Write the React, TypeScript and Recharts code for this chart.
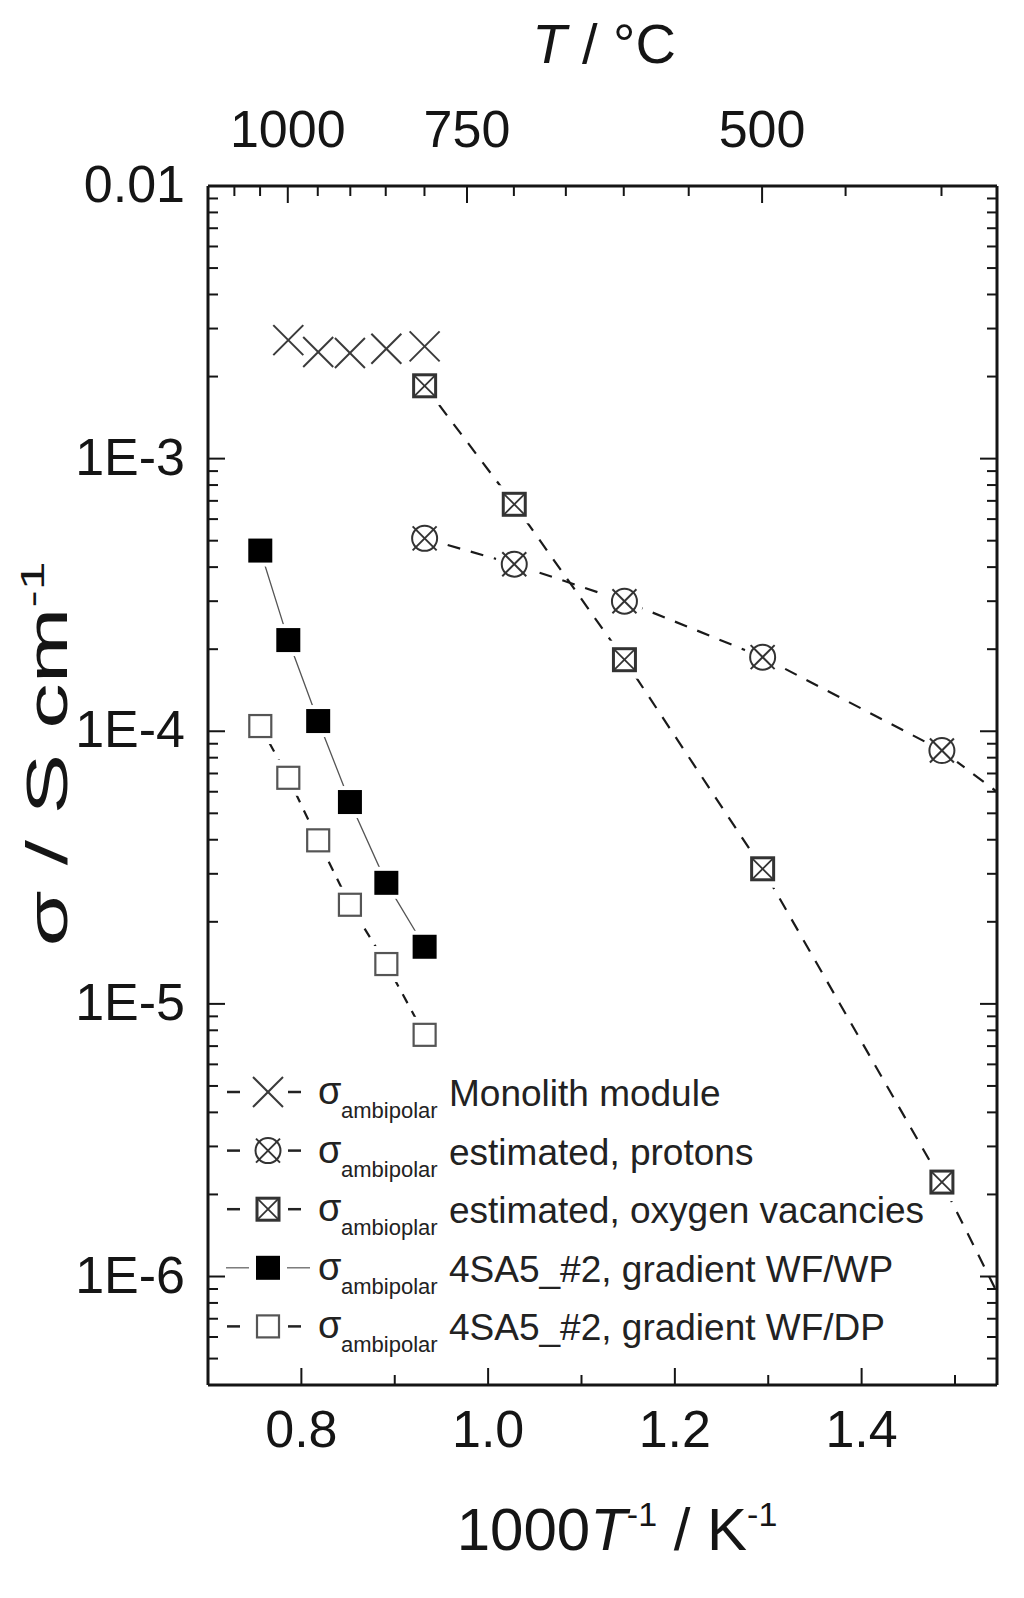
import { ComposedChart, Line, XAxis, YAxis } from "recharts";

// Values (x = 1000/T in 1/K, y = sigma in S/cm)
const monolithX = [0.786, 0.818, 0.852, 0.891, 0.932];
const monolithY = [2.72e-3, 2.46e-3, 2.44e-3, 2.53e-3, 2.58e-3];

// last point of the two estimates lies beyond the frame: the dashed line runs off the plot
const protonX = [0.932, 1.028, 1.146, 1.294, 1.486, 1.605];
const protonY = [5.1e-4, 4.1e-4, 3.0e-4, 1.87e-4, 8.5e-5, 4.2e-5];

const vacancyX = [0.932, 1.028, 1.146, 1.294, 1.486, 1.605];
const vacancyY = [1.85e-3, 6.8e-4, 1.83e-4, 3.13e-5, 2.22e-6, 3.4e-7];

const wetX = [0.756, 0.786, 0.818, 0.852, 0.891, 0.932];
const wetY = [4.6e-4, 2.16e-4, 1.09e-4, 5.5e-5, 2.78e-5, 1.62e-5];

const dryX = [0.756, 0.786, 0.818, 0.852, 0.891, 0.932];
const dryY = [1.045e-4, 6.75e-5, 3.98e-5, 2.31e-5, 1.4e-5, 7.7e-6];

// axes
const bottomTicks = [0.8, 0.9, 1.0, 1.1, 1.2, 1.3, 1.4, 1.5];
const bottomMajor = [0.8, 1.0, 1.2, 1.4];
const tempMajor = [1000, 750, 500];
const tempMinor = [1100, 1050, 950, 900, 850, 800, 700, 650, 600, 550, 450, 400];
const decades = [1e-2, 1e-3, 1e-4, 1e-5, 1e-6];
const decadeLabels = ["0.01", "1E-3", "1E-4", "1E-5", "1E-6"];

const legendLabels = [
  "Monolith module",
  "estimated, protons",
  "estimated, oxygen vacancies",
  "4SA5_#2, gradient WF/WP",
  "4SA5_#2, gradient WF/DP",
];
const legendSubs = ["ambipolar", "ambipolar", "ambioplar", "ambipolar", "ambipolar"];

const X_MIN = 0.7;
const X_MAX = 1.545;
const Y_MIN = 4e-7;
const Y_MAX = 0.01;

const FONT = '"Liberation Sans", Arial, Helvetica, sans-serif';
const INK = "#151515";

const toPoints = (xs: number[], ys: number[]) => xs.map((x, i) => ({ x, y: ys[i] }));

const yTicks: number[] = [];
for (let e = -7; e <= -3; e++) {
  for (let m = 1; m <= 9; m++) {
    const v = Number((m * Math.pow(10, e)).toPrecision(3));
    if (v >= Y_MIN && v <= Y_MAX) yTicks.push(v);
  }
}
yTicks.push(1e-2);

const tempPos = (t: number) => 1000 / (t + 273.15);
const topTicks = [...tempMajor, ...tempMinor].map(tempPos).sort((a, b) => a - b);

const near = (a: number, b: number) => Math.abs(a - b) / Math.abs(b) < 1e-4;
const MAJOR = 17;
const MINOR = 10;

function BottomTick({ x, y, payload }: any) {
  const major = bottomMajor.some((m) => near(payload.value, m));
  return (
    <g>
      <line x1={x} x2={x} y1={y} y2={y - (major ? MAJOR : MINOR)} stroke={INK} strokeWidth={2} />
      {major && (
        <text x={x} y={y + 62} textAnchor="middle" fontSize={52} fontFamily={FONT} fill={INK}>
          {payload.value.toFixed(1)}
        </text>
      )}
    </g>
  );
}

function TopTick({ x, y, payload }: any) {
  const t = Math.round(1000 / payload.value - 273.15);
  const major = tempMajor.includes(t);
  return (
    <g>
      <line x1={x} x2={x} y1={y} y2={y + (major ? MAJOR : MINOR)} stroke={INK} strokeWidth={2} />
      {major && (
        <text x={x} y={y - 39} textAnchor="middle" fontSize={52} fontFamily={FONT} fill={INK}>
          {t}
        </text>
      )}
    </g>
  );
}

function LeftTick({ x, y, payload }: any) {
  const idx = decades.findIndex((d) => near(payload.value, d));
  const major = idx >= 0;
  return (
    <g>
      <line x1={x} x2={x + (major ? MAJOR : MINOR)} y1={y} y2={y} stroke={INK} strokeWidth={2} />
      {major && (
        <text x={x - 23} y={y + 16} textAnchor="end" fontSize={52} fontFamily={FONT} fill={INK}>
          {decadeLabels[idx]}
        </text>
      )}
    </g>
  );
}

function RightTick({ x, y, payload }: any) {
  const major = decades.some((d) => near(payload.value, d));
  return (
    <line x1={x} x2={x - (major ? MAJOR : MINOR)} y1={y} y2={y} stroke={INK} strokeWidth={2} />
  );
}

// markers
type Kind = "cross" | "circleX" | "squareX" | "filled" | "open";

function Marker({ kind, cx, cy }: { kind: Kind; cx: number; cy: number }) {
  if (kind === "cross") {
    return (
      <g stroke="#3a3a3a" strokeWidth={2}>
        <line x1={cx - 15} y1={cy - 15} x2={cx + 15} y2={cy + 15} />
        <line x1={cx - 15} y1={cy + 15} x2={cx + 15} y2={cy - 15} />
      </g>
    );
  }
  if (kind === "circleX") {
    return (
      <g>
        <circle cx={cx} cy={cy} r={13} fill="#fff" stroke="#fff" strokeWidth={12} />
        <circle cx={cx} cy={cy} r={12.5} fill="#fff" stroke="#333" strokeWidth={2} />
        <g stroke="#333" strokeWidth={2}>
          <line x1={cx - 12} y1={cy - 12} x2={cx + 12} y2={cy + 12} />
          <line x1={cx - 12} y1={cy + 12} x2={cx + 12} y2={cy - 12} />
        </g>
      </g>
    );
  }
  if (kind === "squareX") {
    return (
      <g>
        <rect x={cx - 12} y={cy - 12} width={24} height={24} fill="#fff" stroke="#fff" strokeWidth={14} />
        <rect x={cx - 11} y={cy - 11} width={22} height={22} fill="#fff" stroke="#333" strokeWidth={3} />
        <g stroke="#333" strokeWidth={1.8}>
          <line x1={cx - 10} y1={cy - 10} x2={cx + 10} y2={cy + 10} />
          <line x1={cx - 10} y1={cy + 10} x2={cx + 10} y2={cy - 10} />
        </g>
      </g>
    );
  }
  if (kind === "filled") {
    return (
      <g>
        <rect x={cx - 12} y={cy - 12} width={24} height={24} fill="#fff" stroke="#fff" strokeWidth={8} />
        <rect x={cx - 12} y={cy - 12} width={24} height={24} fill="#000" />
      </g>
    );
  }
  return (
    <g>
      <rect x={cx - 12} y={cy - 12} width={24} height={24} fill="#fff" stroke="#fff" strokeWidth={12} />
      <rect x={cx - 11} y={cy - 11} width={22} height={22} fill="#fff" stroke="#555" strokeWidth={2.2} />
    </g>
  );
}

const dotFor = (kind: Kind) => (p: any) => {
  const key = `${kind}-${p.index}`;
  if (p.payload.x > X_MAX || p.cx == null || p.cy == null) return <g key={key} />;
  return (
    <g key={key}>
      <Marker kind={kind} cx={p.cx} cy={p.cy} />
    </g>
  );
};

const series: {
  name: string;
  kind: Kind;
  xAxis: string;
  data: { x: number; y: number }[];
  stroke: string;
  width: number;
  dash?: string;
}[] = [
  { name: "vacancy", kind: "squareX", xAxis: "bottom", data: toPoints(vacancyX, vacancyY), stroke: "#1a1a1a", width: 2.2, dash: "13 11" },
  { name: "proton", kind: "circleX", xAxis: "bottom", data: toPoints(protonX, protonY), stroke: "#1a1a1a", width: 2.2, dash: "13 11" },
  { name: "dry", kind: "open", xAxis: "bottom", data: toPoints(dryX, dryY), stroke: "#1a1a1a", width: 2.2, dash: "10 9" },
  { name: "wet", kind: "filled", xAxis: "bottom", data: toPoints(wetX, wetY), stroke: "#555", width: 1.3 },
  // plotted against the top (temperature) axis, which shares the same 1000/T scale
  { name: "monolith", kind: "cross", xAxis: "top", data: toPoints(monolithX, monolithY), stroke: "none", width: 0 },
];

const legendKinds: Kind[] = ["cross", "circleX", "squareX", "filled", "open"];

function LegendBlock() {
  return (
    <g fontFamily={FONT} fill="#222">
      {legendKinds.map((k, i) => {
        const cy = 1092 + i * 58.6;
        const solid = k === "filled";
        return (
          <g key={k}>
            {solid ? (
              <g stroke="#666" strokeWidth={1.3}>
                <line x1={226} x2={249} y1={cy} y2={cy} />
                <line x1={287} x2={310} y1={cy} y2={cy} />
              </g>
            ) : (
              <g stroke="#222" strokeWidth={2.5}>
                <line x1={227} x2={240} y1={cy} y2={cy} />
                <line x1={288} x2={301} y1={cy} y2={cy} />
              </g>
            )}
            <Marker kind={k} cx={268} cy={cy} />
            <text x={318} y={cy + 12} fontSize={38}>σ</text>
            <text x={341} y={cy + 26} fontSize={22}>{legendSubs[i]}</text>
            <text x={449} y={cy + 14} fontSize={37}>{legendLabels[i]}</text>
          </g>
        );
      })}
    </g>
  );
}

export default function App() {
  return (
    <div style={{ position: "absolute", left: 0, top: 0, width: 1024, height: 1598, background: "#fff" }}>
      <ComposedChart width={1024} height={1598} margin={{ top: 0, right: 0, bottom: 0, left: 0 }}>
        <XAxis
          xAxisId="bottom"
          dataKey="x"
          type="number"
          orientation="bottom"
          domain={[X_MIN, X_MAX]}
          allowDataOverflow
          ticks={bottomTicks}
          interval={0}
          height={213}
          tickSize={0}
          tickMargin={0}
          tick={BottomTick}
          axisLine={{ stroke: INK, strokeWidth: 3 }}
        />
        <XAxis
          xAxisId="top"
          dataKey="x"
          type="number"
          orientation="top"
          domain={[X_MIN, X_MAX]}
          allowDataOverflow
          ticks={topTicks}
          interval={0}
          height={186}
          tickSize={0}
          tickMargin={0}
          tick={TopTick}
          axisLine={{ stroke: INK, strokeWidth: 3 }}
        />
        <YAxis
          yAxisId="left"
          type="number"
          scale="log"
          orientation="left"
          domain={[Y_MIN, Y_MAX]}
          allowDataOverflow
          ticks={yTicks}
          interval={0}
          width={208}
          tickSize={0}
          tickMargin={0}
          tick={LeftTick}
          axisLine={{ stroke: INK, strokeWidth: 3 }}
        />
        <YAxis
          yAxisId="right"
          type="number"
          scale="log"
          orientation="right"
          domain={[Y_MIN, Y_MAX]}
          allowDataOverflow
          ticks={yTicks}
          interval={0}
          width={27}
          tickSize={0}
          tickMargin={0}
          tick={RightTick}
          axisLine={{ stroke: INK, strokeWidth: 3 }}
        />
        {series.map((s) => (
          <Line
            key={s.name}
            xAxisId={s.xAxis}
            yAxisId="left"
            data={s.data}
            dataKey="y"
            type="linear"
            stroke={s.stroke}
            strokeWidth={s.width}
            strokeDasharray={s.dash}
            dot={dotFor(s.kind)}
            activeDot={false}
            isAnimationActive={false}
          />
        ))}
      </ComposedChart>
      <svg
        width={1024}
        height={1598}
        style={{ position: "absolute", left: 0, top: 0, pointerEvents: "none" }}
      >
        <text x={604} y={63} textAnchor="middle" fontSize={56} fontFamily={FONT} fill={INK}>
          <tspan fontStyle="italic">T</tspan> / °C
        </text>
        <text x={617} y={1550} textAnchor="middle" fontSize={60} fontFamily={FONT} fill={INK}>
          1000<tspan fontStyle="italic">T</tspan>
          <tspan dy={-24} fontSize={34}>-1</tspan>
          <tspan dy={24}> / K</tspan>
          <tspan dy={-24} fontSize={34}>-1</tspan>
        </text>
        <text
          transform="translate(67,754) rotate(-90)"
          textAnchor="middle"
          fontSize={58}
          fontFamily={FONT}
          fill={INK}
          textLength={385}
          lengthAdjust="spacingAndGlyphs"
        >
          σ / S cm<tspan dy={-23} fontSize={33}>-1</tspan>
        </text>
        <LegendBlock />
      </svg>
    </div>
  );
}
